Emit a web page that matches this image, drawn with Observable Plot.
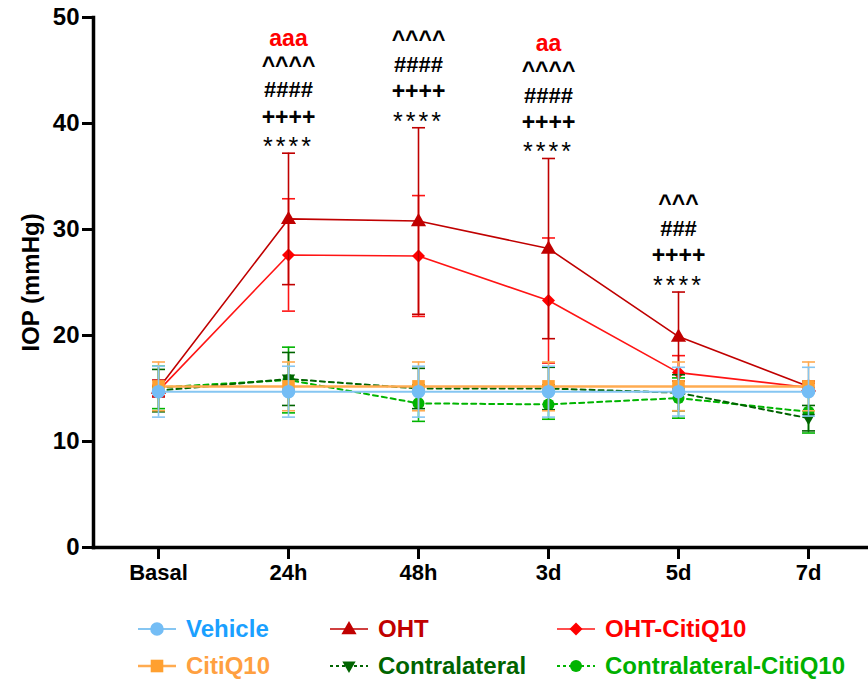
<!DOCTYPE html>
<html><head><meta charset="utf-8">
<script src="https://cdn.jsdelivr.net/npm/d3@7"></script>
<script src="https://cdn.jsdelivr.net/npm/@observablehq/plot@0.6"></script>
<style>
body{margin:0;background:#fff;font-family:"Liberation Sans",Arial,sans-serif;}
#wrap{position:relative;width:868px;height:681px;overflow:hidden;}
.leg{position:absolute;display:flex;align-items:center;height:30px;font-weight:bold;font-size:24px;white-space:nowrap;}
.leg svg{margin-right:10px;}
</style></head><body><div id="wrap"><div id="chart"></div></div>
<script>
// ---- data ----
const timePoints = ["Basal","24h","48h","3d","5d","7d"];
const yTicks = [0,10,20,30,40,50];

const vehicleMean = [14.7,14.7,14.7,14.7,14.7,14.7];
const vehicleSD   = [2.4,2.4,2.4,2.4,2.3,2.3];
const citiMean    = [15.2,15.2,15.2,15.2,15.2,15.2];
const citiSD      = [2.3,2.3,2.3,2.3,2.3,2.3];
const ohtMean     = [15.0,31.0,30.8,28.2,19.9,15.2];
const ohtSD       = [0.8,6.2,8.8,8.5,4.2,0.5];
const ohtCitiMean = [14.8,27.6,27.5,23.3,16.5,15.1];
const ohtCitiSD   = [0.5,5.3,5.7,5.9,1.6,0.4];
const contraMean  = [14.8,15.9,15.0,15.0,14.6,12.2];
const contraSD    = [2.0,2.5,1.9,2.0,1.7,1.2];
const contraCitiMean = [15.1,15.8,13.6,13.5,14.1,12.8];
const contraCitiSD   = [2.0,3.1,1.7,1.4,1.9,2.0];

const annotTimes = ["24h","48h","3d","5d"];
const annotA     = ["aaa","","aa",""];
const annotCaret = ["^^^^","^^^^","^^^^","^^^"];
const annotHash  = ["####","####","####","###"];
const annotPlus  = ["++++","++++","++++","++++"];
const annotStar  = ["****","****","****","****"];

// ---- styles ----
function rOf(s){return Math.sqrt(s/Math.PI);}
const SYM = {
  circle:{draw(c,s){const r=rOf(s);c.moveTo(r,0);c.arc(0,0,r,0,2*Math.PI);}},
  square:{draw(c,s){const r=rOf(s);c.rect(-r,-r,2*r,2*r);}},
  triUp:{draw(c,s){const r=rOf(s);c.moveTo(0,-r);c.lineTo(r*0.95,r*0.65);c.lineTo(-r*0.95,r*0.65);c.closePath();}},
  triDown:{draw(c,s){const r=rOf(s);c.moveTo(0,r);c.lineTo(r*0.95,-r*0.65);c.lineTo(-r*0.95,-r*0.65);c.closePath();}},
  diamond:{draw(c,s){const r=rOf(s);c.moveTo(0,-r);c.lineTo(r,0);c.lineTo(0,r);c.lineTo(-r,0);c.closePath();}},
  cap:{draw(c,s){c.moveTo(-6.5,0);c.lineTo(6.5,0);}}
};

const series = [
  {name:"Contralateral-CitiQ10", mean:contraCitiMean, sd:contraCitiSD, line:"#00B400", mark:"#00B400", text:"#00B000", sym:"circle", r:6, dash:"5,4", lw:2},
  {name:"OHT-CitiQ10", mean:ohtCitiMean, sd:ohtCitiSD, line:"#FF1414", mark:"#FF0000", text:"#FF0000", sym:"diamond", r:6.5, dash:null, lw:1.6},
  {name:"Contralateral", mean:contraMean, sd:contraSD, line:"#006400", mark:"#006400", text:"#006400", sym:"triDown", r:7, dash:"5,4", lw:2},
  {name:"OHT", mean:ohtMean, sd:ohtSD, line:"#C00000", mark:"#C00000", text:"#C00000", sym:"triUp", r:8, dash:null, lw:1.6},
  {name:"CitiQ10", mean:citiMean, sd:citiSD, line:"#FFAB50", mark:"#FFA030", text:"#FFA040", sym:"square", r:6.3, dash:null, lw:2.5},
  {name:"Vehicle", mean:vehicleMean, sd:vehicleSD, line:"#86C6F2", mark:"#74BDF5", text:"#1AA0FF", sym:"circle", r:6.8, dash:null, lw:2}
];

const marks = [];
for (const s of series) {
  const rows = timePoints.map((t,i)=>({time:t, mean:s.mean[i], sd:s.sd[i]}));
  marks.push(Plot.ruleX(rows,{x:"time", y1:d=>d.mean-d.sd, y2:d=>d.mean+d.sd, stroke:s.line, strokeWidth:1.6}));
  marks.push(Plot.dot(rows,{x:"time", y:d=>d.mean+d.sd, symbol:SYM.cap, r:5, fill:"none", stroke:s.line, strokeWidth:1.6}));
  marks.push(Plot.dot(rows,{x:"time", y:d=>d.mean-d.sd, symbol:SYM.cap, r:5, fill:"none", stroke:s.line, strokeWidth:1.6}));
  marks.push(Plot.line(rows,{x:"time", y:"mean", stroke:s.line, strokeWidth:s.lw, strokeDasharray:s.dash}));
  marks.push(Plot.dot(rows,{x:"time", y:"mean", symbol:SYM[s.sym], r:s.r, fill:s.mark, stroke:"none"}));
}

// annotations anchored to top of OHT error bar
const ohtTop = t => { const i = timePoints.indexOf(t); return ohtMean[i] + ohtSD[i]; };
const annotRows = [
  {labels:annotStar, dy:-6, fill:"#000", weight:"normal", size:25},
  {labels:annotPlus, dy:-36, fill:"#000", weight:"bold", size:23},
  {labels:annotHash, dy:-63, fill:"#000", weight:"bold", size:22},
  {labels:annotCaret, dy:-88, fill:"#000", weight:"bold", size:23},
  {labels:annotA, dy:-115, fill:"#FF0000", weight:"bold", size:23}
];
for (const row of annotRows) {
  const rows = annotTimes.map((t,i)=>({time:t, label:row.labels[i]}));
  marks.push(Plot.text(rows,{x:"time", y:d=>ohtTop(d.time), text:"label", dy:row.dy, fill:row.fill, fontWeight:row.weight, fontSize:row.size, lineAnchor:"middle", fontFamily:"Liberation Sans, Arial, sans-serif"}));
}

const chart = Plot.plot({
  width:868, height:600,
  marginLeft:93, marginRight:0, marginTop:17, marginBottom:53,
  style:{fontFamily:"Liberation Sans, Arial, sans-serif", fontWeight:"bold", fontSize:"22px", color:"#000", background:"#fff"},
  x:{type:"point", domain:timePoints, padding:0.475, align:0.516},
  y:{domain:[0,50]},
  marks:[
    ...marks,
    Plot.axisY({ticks:yTicks, tickSize:11, tickPadding:3, strokeWidth:3, fontSize:24, label:"IOP (mmHg)", labelAnchor:"center", labelArrow:"none", labelOffset:72}),
    Plot.axisX({tickSize:12, tickPadding:5, strokeWidth:3, label:null}),
    Plot.frame({anchor:"left", strokeWidth:3.5}),
    Plot.frame({anchor:"bottom", strokeWidth:3.5})
  ]
});
document.getElementById("chart").appendChild(chart);
d3.select(chart).selectAll("text").filter(function(){return this.textContent.indexOf("*")>=0;}).attr("letter-spacing","3px");

// ---- legend ----
const legendLayout = [
  ["Vehicle",138,629],["OHT",330,629],["OHT-CitiQ10",557,629],
  ["CitiQ10",138,666],["Contralateral",330,666],["Contralateral-CitiQ10",557,666]
];
const wrap = document.getElementById("wrap");
for (const [name,x,y] of legendLayout) {
  const s = series.find(d=>d.name===name);
  const div = document.createElement("div");
  div.className="leg";
  div.style.left = x+"px"; div.style.top = (y-15)+"px";
  div.style.color = s.text;
  const svg = d3.create("svg").attr("width",38).attr("height",20);
  svg.append("line").attr("x1",0).attr("x2",38).attr("y1",10).attr("y2",10).attr("stroke",s.line).attr("stroke-width",s.lw).attr("stroke-dasharray",s.dash ? "3,3" : null);
  svg.append("path").attr("transform","translate(19,10)").attr("d",d3.symbol(SYM[s.sym], Math.PI*s.r*s.r)()).attr("fill",s.mark);
  div.appendChild(svg.node());
  const span = document.createElement("span"); span.textContent = name; div.appendChild(span);
  wrap.appendChild(div);
}
</script></body></html>
